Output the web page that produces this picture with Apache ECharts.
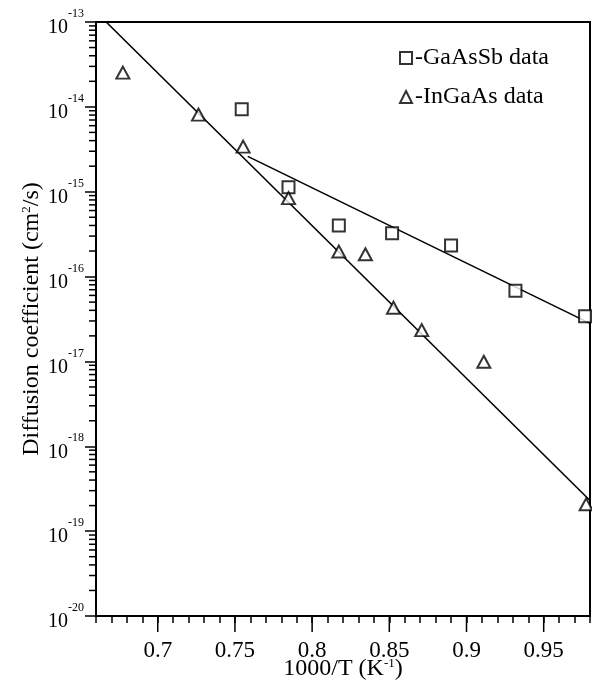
<!DOCTYPE html>
<html>
<head>
<meta charset="utf-8">
<script src="https://cdn.jsdelivr.net/npm/echarts@6/dist/echarts.min.js"></script>
<style type="text/css">
    body {margin:0px;padding:0px;overflow:hidden;background:#fff;}
    #main {width:592px;height:687px;}
</style>
</head>
<body>
<div id="main"></div>
<script type="text/javascript">
// measured points, 1000/T (1/K) vs D (cm^2/s)
let gaassbX = [0.7544, 0.7847, 0.8173, 0.8518, 0.8900, 0.9317, 0.9768];
let gaassbD = [9.4e-15, 1.13e-15, 4.0e-16, 3.24e-16, 2.32e-16, 6.8e-17, 3.4e-17];

let ingaasX = [0.6774, 0.7264, 0.7553, 0.7847, 0.8173, 0.8345, 0.8527, 0.8710, 0.9112, 0.9775];
let ingaasD = [2.53e-14, 8.1e-15, 3.4e-15, 8.4e-16, 1.97e-16, 1.83e-16, 4.3e-17, 2.34e-17, 9.9e-18, 2.07e-19];

// fitted lines (end points)
let fitGaAsSbX = [0.7583, 0.98];
let fitGaAsSbD = [2.61e-15, 2.81e-17];
let fitInGaAsX = [0.6666, 0.98];
let fitInGaAsD = [1e-13, 2.3e-19];

// axis ticks
let xMajorTicks = [0.7, 0.75, 0.8, 0.85, 0.9, 0.95];
let yDecades = [-20, -19, -18, -17, -16, -15, -14];
let yMantissa = [2, 3, 4, 5, 6, 7, 8, 9];

const FONT = 'Liberation Serif';
const xMin = 0.66, xMax = 0.98;

function pairs(xs, ys) {
    return xs.map((x, i) => [x, ys[i]]);
}

let yMinorData = [];
yDecades.forEach(n => {
    yMantissa.forEach(m => { yMinorData.push([xMin, m * Math.pow(10, n)]); });
});
let xMajorData = xMajorTicks.map(x => [x, 1e-20]);

function tickItem(dx, dy) {
    return function (params, api) {
        let p = api.coord([api.value(0), api.value(1)]);
        return {
            type: 'line',
            shape: {x1: p[0], y1: p[1], x2: p[0] + dx, y2: p[1] + dy},
            style: {stroke: '#000', lineWidth: 1.5}
        };
    };
}

let myChart = echarts.init(document.getElementById('main'));
let option = {
    animation: false,
    backgroundColor: '#fff',
    grid: {
        left: 96, right: 2, top: 22, bottom: 71,
        outerBoundsMode: 'none',
        containLabel: false,
        show: true, borderColor: '#000', borderWidth: 2
    },
    legend: {
        data: ['GaAsSb data', 'InGaAs data'],
        orient: 'vertical',
        left: 399, top: 46,
        padding: 0,
        itemWidth: 12, itemHeight: 12,
        itemGap: 15,
        formatter: name => '-' + name,
        textStyle: {fontFamily: FONT, fontSize: 24, color: '#000', padding: [0, 0, 0, -2]}
    },
    xAxis: {
        type: 'value',
        min: xMin, max: xMax, interval: 0.01,
        name: '1000/T (K{sup|-1})',
        nameLocation: 'middle',
        nameGap: 41,
        nameMoveOverlap: false,
        nameTextStyle: {
            fontFamily: FONT, fontSize: 24, color: '#000',
            rich: {sup: {fontFamily: FONT, fontSize: 13, color: '#000', verticalAlign: 'top', padding: [0, 0, 10, 0]}}
        },
        axisLine: {lineStyle: {color: '#000', width: 2}},
        axisTick: {length: 7, lineStyle: {color: '#000', width: 1.5}},
        axisLabel: {
            margin: 23,
            fontFamily: FONT, fontSize: 23, color: '#000',
            formatter: function (v) {
                let k = Math.round(v * 100);
                return k % 5 === 0 ? String(k / 100) : '';
            }
        },
        splitLine: {show: false}
    },
    yAxis: {
        type: 'log',
        logBase: 10,
        min: 1e-20, max: 1e-13, interval: 1,
        name: 'Diffusion coefficient (cm{sup|2}/s)',
        nameLocation: 'middle',
        nameGap: 52,
        nameMoveOverlap: false,
        nameTextStyle: {
            fontFamily: FONT, fontSize: 24, color: '#000',
            rich: {sup: {fontFamily: FONT, fontSize: 13, color: '#000', verticalAlign: 'top', padding: [0, 0, 10, 0]}}
        },
        axisLine: {show: true, lineStyle: {color: '#000', width: 2}},
        axisTick: {length: 11, lineStyle: {color: '#000', width: 1.5}},
        axisLabel: {
            margin: 12,
            color: '#000',
            formatter: function (v) {
                return '{b|10}{s|' + Math.round(Math.log10(v)) + '}';
            },
            rich: {
                b: {fontFamily: FONT, fontSize: 20, color: '#000', padding: [12, 0, 0, 0]},
                s: {fontFamily: FONT, fontSize: 12, color: '#000', verticalAlign: 'top', padding: [2, 0, 0, 0]}
            }
        },
        splitLine: {show: false}
    },
    series: [
        {
            name: 'fitInGaAs', type: 'line', data: pairs(fitInGaAsX, fitInGaAsD),
            showSymbol: false, symbol: 'none', z: 2,
            lineStyle: {color: '#000', width: 1.6}
        },
        {
            name: 'fitGaAsSb', type: 'line', data: pairs(fitGaAsSbX, fitGaAsSbD),
            showSymbol: false, symbol: 'none', z: 2,
            lineStyle: {color: '#000', width: 1.6}
        },
        {
            name: 'GaAsSb data', type: 'scatter', data: pairs(gaassbX, gaassbD),
            symbol: 'rect', symbolSize: 12, z: 5,
            itemStyle: {color: '#fff', borderColor: '#000', borderWidth: 2}
        },
        {
            name: 'InGaAs data', type: 'scatter', data: pairs(ingaasX, ingaasD),
            symbol: 'triangle', symbolSize: [13, 12], z: 5,
            itemStyle: {color: '#fff', borderColor: '#000', borderWidth: 2}
        },
        {
            name: 'yMinorTicks', type: 'custom', data: yMinorData,
            renderItem: tickItem(-7, 0), clip: false, silent: true
        },
        {
            name: 'xMajorTicks', type: 'custom', data: xMajorData,
            renderItem: tickItem(0, 16), clip: false, silent: true
        }
    ]
};
myChart.setOption(option);
window.onresize = myChart.resize;
</script>
</body>
</html>
